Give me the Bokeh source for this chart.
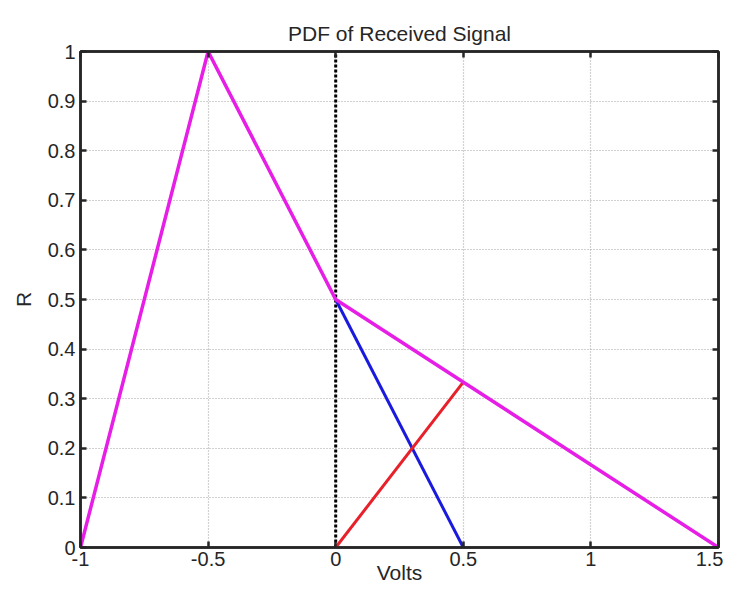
from bokeh.plotting import figure
from bokeh.models import Range1d, LinearAxis, FixedTicker
from bokeh.embed import file_html
from bokeh.resources import INLINE

# Data
pdf_x = [-1.0, -0.5, 0.0, 1.5]
pdf_y = [0.0, 1.0, 0.5, 0.0]
blue_x = [0.0, 0.5]
blue_y = [0.5, 0.0]
red_x = [0.0, 0.5]
red_y = [0.0, 1.0 / 3.0]
thresh_x = [0.0, 0.0]
thresh_y = [0.0, 1.0]
x_ticks = [-1, -0.5, 0, 0.5, 1, 1.5]
y_ticks = [0, 0.1, 0.2, 0.3, 0.4, 0.5, 0.6, 0.7, 0.8, 0.9, 1.0]
x_tick_labels = {-1: "-1", -0.5: "-0.5", 0: "0", 0.5: "0.5", 1: "1", 1.5: "1.5"}
y_tick_labels = {0: "0", 0.1: "0.1", 0.2: "0.2", 0.3: "0.3", 0.4: "0.4", 0.5: "0.5",
                 0.6: "0.6", 0.7: "0.7", 0.8: "0.8", 0.9: "0.9", 1.0: "1"}

FONT = "Liberation Sans"
INK = "#262626"

p = figure(width=723, height=586, output_backend="svg", toolbar_location=None,
           x_range=Range1d(-1, 1.5), y_range=Range1d(0, 1),
           min_border_left=80, min_border_right=5, min_border_top=51, min_border_bottom=36)

p.title.text = "PDF of Received Signal"
p.title.align = "center"
p.title.text_font = FONT
p.title.text_font_size = "21px"
p.title.text_font_style = "normal"
p.title.text_color = INK
p.title.standoff = 14

p.outline_line_color = INK
p.outline_line_width = 2.5
p.outline_line_alpha = 1

for ax, ticks, labels in ((p.xaxis[0], x_ticks, x_tick_labels), (p.yaxis[0], y_ticks, y_tick_labels)):
    ax.ticker = FixedTicker(ticks=ticks)
    ax.major_label_overrides = labels
    ax.major_tick_in = 6
    ax.major_tick_out = 0
    ax.minor_tick_line_color = None
    ax.axis_line_color = INK
    ax.axis_line_width = 2.5
    ax.major_tick_line_color = INK
    ax.major_tick_line_width = 2.5
    ax.major_label_text_font = FONT
    ax.major_label_text_font_size = "20px"
    ax.major_label_text_color = INK
    ax.axis_label_text_font = FONT
    ax.axis_label_text_font_size = "21px"
    ax.axis_label_text_font_style = "normal"
    ax.axis_label_text_color = INK

p.xaxis[0].axis_label = "Volts"
p.xaxis[0].axis_label_standoff = -8
p.xaxis[0].major_label_standoff = 4
p.yaxis[0].axis_label = "R"
p.yaxis[0].major_label_standoff = 5
p.yaxis[0].axis_label_standoff = 10

for loc, ticks in (("right", y_ticks), ("above", x_ticks)):
    a = LinearAxis(ticker=FixedTicker(ticks=ticks), major_label_text_font_size="0px",
                   major_tick_in=6, major_tick_out=0, minor_tick_line_color=None,
                   axis_line_color=INK, axis_line_width=2.5,
                   major_tick_line_color=INK, major_tick_line_width=2.5,
                   major_label_standoff=0)
    p.add_layout(a, loc)

p.xgrid.ticker = FixedTicker(ticks=x_ticks)
p.ygrid.ticker = FixedTicker(ticks=y_ticks)
for g in (p.xgrid, p.ygrid):
    g.grid_line_color = "#9a9a9a"
    g.grid_line_dash = "1 2"
    g.grid_line_width = 1.2
    g.grid_line_alpha = 0.9

p.line(thresh_x, thresh_y, line_color="black", line_width=3, line_dash="3 2")
p.line(blue_x, blue_y, line_color="#1a1adf", line_width=3)
p.line(red_x, red_y, line_color="#e8202a", line_width=3)
p.line(pdf_x, pdf_y, line_color="#e61ee6", line_width=3.5)

open("out.html", "w").write(file_html(p, INLINE))
